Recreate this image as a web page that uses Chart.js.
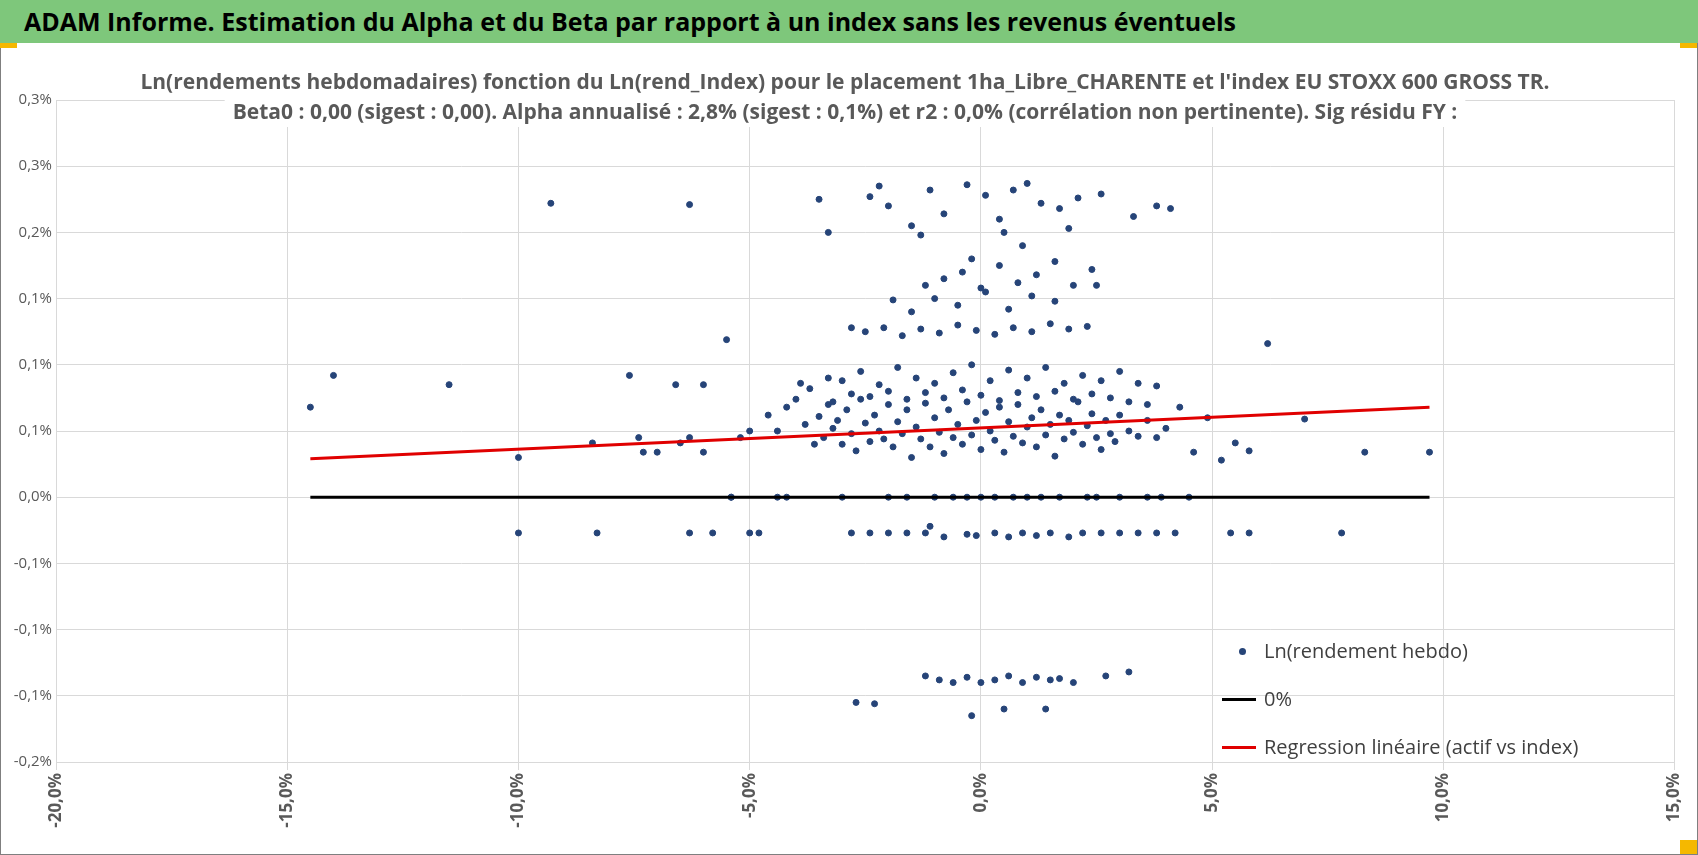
<!DOCTYPE html>
<html><head><meta charset="utf-8">
<script src="https://cdn.jsdelivr.net/npm/chart.js@4/dist/chart.umd.min.js"></script>
<style>
body{margin:0;width:1698px;height:855px;overflow:hidden;background:#fff;font-family:'Liberation Sans Narrow','Open Sans',sans-serif;}
#wrap{position:absolute;left:0;top:0;width:1696px;height:853px;border:1px solid #7f7f7f;}
#head{position:absolute;left:0;top:0;width:1698px;height:43px;background:#7ec77b;font-weight:bold;font-size:25px;line-height:43px;padding-left:24px;box-sizing:border-box;color:#000;}
.org{position:absolute;background:#f5b800;}
#c{position:absolute;left:0;top:0;}
#legend{position:absolute;left:1222px;top:636px;font-size:20px;color:#404040;}
#legend div{height:48px;position:relative;padding-left:42px;line-height:30px;}
</style></head><body>
<div id="wrap"></div>
<canvas id="c" width="1698" height="855"></canvas>
<div id="head">ADAM Informe. Estimation du Alpha et du Beta par rapport à un index sans les revenus éventuels</div>
<div class="org" style="left:0;top:43px;width:17px;height:5px"></div>
<div class="org" style="left:1680px;top:43px;width:17px;height:5px"></div>
<div class="org" style="left:1680px;top:840px;width:17px;height:14px"></div>
<div id="legend">
 <div><span style="position:absolute;left:17px;top:12px;width:7px;height:7px;border-radius:50%;background:#264478"></span>Ln(rendement hebdo)</div>
 <div><span style="position:absolute;left:0;top:14px;width:34px;height:3px;background:#000"></span>0%</div>
 <div><span style="position:absolute;left:0;top:14px;width:34px;height:3px;background:#e00000"></span>Regression linéaire (actif vs index)</div>
</div>
<script>
const titleLines = [
  "Ln(rendements hebdomadaires) fonction du Ln(rend_Index) pour le placement 1ha_Libre_CHARENTE et l'index EU STOXX 600 GROSS TR.",
  "Beta0 : 0,00 (sigest : 0,00). Alpha annualisé : 2,8% (sigest : 0,1%) et r2 : 0,0% (corrélation non pertinente). Sig résidu FY :"
];
// index returns (%) and asset returns (%)
const indexRet = [
 -14.5,-14.0,-11.5,-10.0,-10.0,-9.3,-8.4,-8.3,-7.6,-7.4,-7.3,-7.0,-6.6,-6.5,-6.3,-6.3,-6.3,-6.0,-6.0,-5.8,-5.5,-5.4,-5.2,-5.0,-5.0,-4.8,-4.6,-4.4,-4.2,-4.0,
 -3.9,-3.8,-3.6,-3.5,-3.4,-3.3,-3.2,-3.1,-3.0,-2.9,-2.8,-2.7,-2.6,-2.5,-2.4,-2.3,-2.2,-2.1,-2.0,-1.9,-1.8,-1.7,-1.6,-1.5,-1.4,-1.3,-1.2,-1.1,-1.0,-0.9,
 -0.8,-0.7,-0.6,-0.5,-0.4,-0.3,-0.2,-0.1,0.0,0.1,0.2,0.3,0.4,0.5,0.6,0.7,0.8,0.9,1.0,1.1,1.2,1.3,1.4,1.5,1.6,1.7,1.8,1.9,2.0,2.1,
 2.2,2.3,2.4,2.5,2.6,2.7,2.8,2.9,3.0,3.2,3.4,3.6,3.8,4.0,4.3,4.6,4.9,5.2,5.5,5.8,6.2,7.0,8.3,9.7,
 -3.7,-3.3,-3.0,-2.6,-2.2,-1.8,-1.4,-1.0,-0.6,-0.2,0.2,0.6,1.0,1.4,1.8,2.2,2.6,3.0,3.4,3.8,
 -3.2,-2.8,-2.4,-2.0,-1.6,-1.2,-0.8,-0.4,0.0,0.4,0.8,1.2,1.6,2.0,2.4,2.8,3.2,3.6,
 -2.5,-2.1,-1.7,-1.3,-0.9,-0.5,-0.1,0.3,0.7,1.1,1.5,1.9,2.3,
 -1.2,-0.8,-0.4,0.0,0.4,0.8,1.2,1.6,2.0,2.4,-2.8,-1.9,
 -1.5,-1.0,-0.5,0.1,0.6,1.1,1.6,2.5,-0.2,0.9,
 -3.5,-2.2,-2.0,-1.5,-1.1,-0.8,-0.3,0.1,0.4,0.7,1.0,1.3,1.7,2.1,2.6,3.3,3.8,4.1,-3.3,-1.3,0.5,1.9,-2.4,
 -5.4,-4.4,-4.2,-3.0,-2.0,-1.6,-1.0,-0.6,-0.3,0.0,0.3,0.7,1.0,1.3,1.7,2.3,2.5,3.0,3.6,3.9,4.5,
 -2.8,-2.4,-2.0,-1.6,-1.2,-0.8,-0.3,0.3,0.6,0.9,1.2,1.5,1.9,2.2,2.6,3.0,3.4,3.8,4.2,5.4,5.8,7.8,-1.1,-0.1,
 -2.7,-2.3,-1.2,-0.9,-0.6,-0.3,0.0,0.3,0.6,0.9,1.2,1.5,1.7,2.0,2.7,3.2,-0.2,0.5,1.4
];
const assetRet = [
 0.068,0.092,0.085,0.030,-0.027,0.222,0.041,-0.027,0.092,0.045,0.034,0.034,0.085,0.041,0.221,0.045,-0.027,0.085,0.034,-0.027,0.119,0.000,0.045,-0.027,0.050,-0.027,0.062,0.050,0.068,0.074,
 0.086,0.055,0.040,0.061,0.045,0.070,0.052,0.058,0.040,0.066,0.048,0.035,0.074,0.056,0.042,0.062,0.050,0.044,0.070,0.038,0.057,0.048,0.066,0.030,0.053,0.044,0.071,0.038,0.060,0.049,
 0.033,0.066,0.045,0.055,0.040,0.072,0.047,0.058,0.036,0.064,0.050,0.043,0.068,0.034,0.057,0.046,0.070,0.041,0.053,0.060,0.038,0.066,0.047,0.055,0.031,0.062,0.044,0.058,0.049,0.072,
 0.040,0.054,0.063,0.045,0.036,0.058,0.048,0.042,0.062,0.050,0.046,0.058,0.045,0.052,0.068,0.034,0.060,0.028,0.041,0.035,0.116,0.059,0.034,0.034,
 0.082,0.090,0.088,0.095,0.085,0.098,0.090,0.086,0.094,0.100,0.088,0.096,0.090,0.098,0.086,0.092,0.088,0.095,0.086,0.084,
 0.072,0.078,0.076,0.080,0.074,0.079,0.075,0.081,0.077,0.073,0.079,0.076,0.080,0.074,0.078,0.075,0.072,0.070,
 0.125,0.128,0.122,0.127,0.124,0.130,0.126,0.123,0.128,0.125,0.131,0.127,0.129,
 0.160,0.165,0.170,0.158,0.175,0.162,0.168,0.178,0.160,0.172,0.128,0.149,
 0.140,0.150,0.145,0.155,0.142,0.152,0.148,0.160,0.180,0.190,
 0.225,0.235,0.220,0.205,0.232,0.214,0.236,0.228,0.210,0.232,0.237,0.222,0.218,0.226,0.229,0.212,0.220,0.218,0.200,0.198,0.200,0.203,0.227,
 0.000,0.000,0.000,0.000,0.000,0.000,0.000,0.000,0.000,0.000,0.000,0.000,0.000,0.000,0.000,0.000,0.000,0.000,0.000,0.000,0.000,
 -0.027,-0.027,-0.027,-0.027,-0.027,-0.030,-0.028,-0.027,-0.030,-0.027,-0.029,-0.027,-0.030,-0.027,-0.027,-0.027,-0.027,-0.027,-0.027,-0.027,-0.027,-0.027,-0.022,-0.029,
 -0.155,-0.156,-0.135,-0.138,-0.140,-0.136,-0.140,-0.138,-0.135,-0.140,-0.136,-0.138,-0.137,-0.140,-0.135,-0.132,-0.165,-0.160,-0.160
];
const regX = [-14.5, 9.7];
const regY = [0.029, 0.068];
const zeroX = [-14.5, 9.7];
const zeroY = [0, 0];

const pts = indexRet.map((x, i) => ({x: x, y: assetRet[i]}));
const fmt = d => v => v.toFixed(d).replace('.', ',') + '%';
const FONT = "'Liberation Sans Narrow','Open Sans',sans-serif";

const titlePlugin = {
  id: 'boxTitle',
  afterDraw(chart) {
    const c = chart.ctx;
    c.save();
    c.font = 'bold 21px ' + FONT;
    c.textAlign = 'center';
    c.textBaseline = 'middle';
    titleLines.forEach((t, i) => {
      const y = 83 + i * 30;
      const w = c.measureText(t).width;
      c.fillStyle = '#fff';
      c.fillRect(845 - w / 2 - 8, y - 14, w + 16, 28);
      c.fillStyle = '#595959';
      c.fillText(t, 845, y);
    });
    c.restore();
  }
};

new Chart(document.getElementById('c'), {
  type: 'scatter',
  data: {
    datasets: [
      { data: pts, backgroundColor: '#264478', borderColor: '#264478', pointRadius: 3, order: 3 },
      { type: 'line', data: zeroX.map((x, i) => ({x: x, y: zeroY[i]})), borderColor: '#000', borderWidth: 3, pointRadius: 0, order: 2 },
      { type: 'line', data: regX.map((x, i) => ({x: x, y: regY[i]})), borderColor: '#e00000', borderWidth: 3, pointRadius: 0, order: 1 }
    ]
  },
  options: {
    responsive: false,
    animation: false,
    layout: { padding: { top: 100, left: 0, right: 15, bottom: 8 } },
    plugins: { legend: { display: false }, title: { display: false }, tooltip: { enabled: false } },
    scales: {
      x: {
        min: -20, max: 15,
        afterFit: s => { s.height = 85; },
        ticks: { stepSize: 5, callback: fmt(1), maxRotation: 90, minRotation: 90, color: '#595959', font: { family: FONT, size: 17, weight: 'bold' } },
        grid: { color: '#d9d9d9' }, border: { color: '#d9d9d9' }
      },
      y: {
        min: -0.2, max: 0.3,
        afterFit: s => { s.width = 56; },
        ticks: { stepSize: 0.05, padding: 4, callback: fmt(1), color: '#595959', font: { family: FONT, size: 15 } },
        grid: { color: '#d9d9d9', drawTicks: false }, border: { color: '#d9d9d9' }
      }
    }
  },
  plugins: [titlePlugin]
});
</script>
</body></html>
